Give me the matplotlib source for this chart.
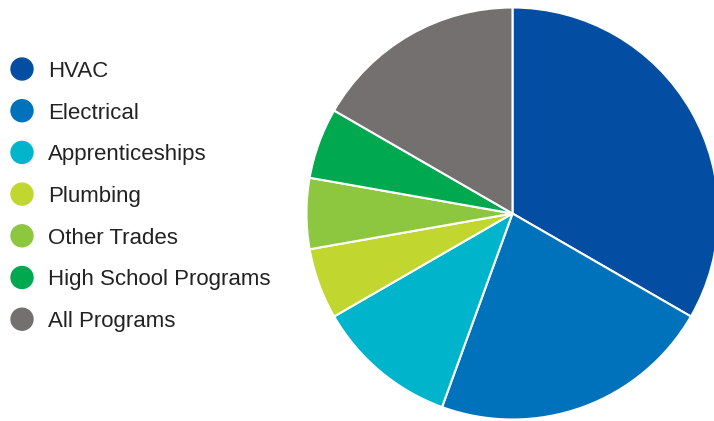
import matplotlib.pyplot as plt
from matplotlib.patches import Circle

# Share of programs by trade
labels = ['HVAC', 'Electrical', 'Apprenticeships', 'Plumbing',
          'Other Trades', 'High School Programs', 'All Programs']
values = [6, 4, 2, 1, 1, 1, 3]
colors = ['#034EA2', '#0072BB', '#00B5CB', '#C1D730',
          '#8DC63F', '#00A94F', '#747070']

W, H = 714, 421
fig = plt.figure(figsize=(W / 100, H / 100), dpi=100)
ax = fig.add_axes([0, 0, 1, 1])
ax.set_xlim(0, W)
ax.set_ylim(0, H)
ax.set_aspect('equal')
ax.axis('off')

# Pie sits on the right and runs off the edge
ax.pie(values, colors=colors, startangle=90, counterclock=False,
       center=(512.5, H - 213.5), radius=206,
       wedgeprops=dict(edgecolor='white', linewidth=1.5))
ax.set_xlim(0, W)
ax.set_ylim(0, H)

# Hand-made legend: coloured dots with labels
y0, step = 69, 41.7
for i, (lab, col) in enumerate(zip(labels, colors)):
    y = H - (y0 + i * step)
    ax.add_patch(Circle((22, y), 11, color=col))
    ax.text(48, y, lab, fontsize=16, family='Liberation Sans',
            color='#222222', va='center_baseline', ha='left')

fig.savefig('out.png', dpi=100)
